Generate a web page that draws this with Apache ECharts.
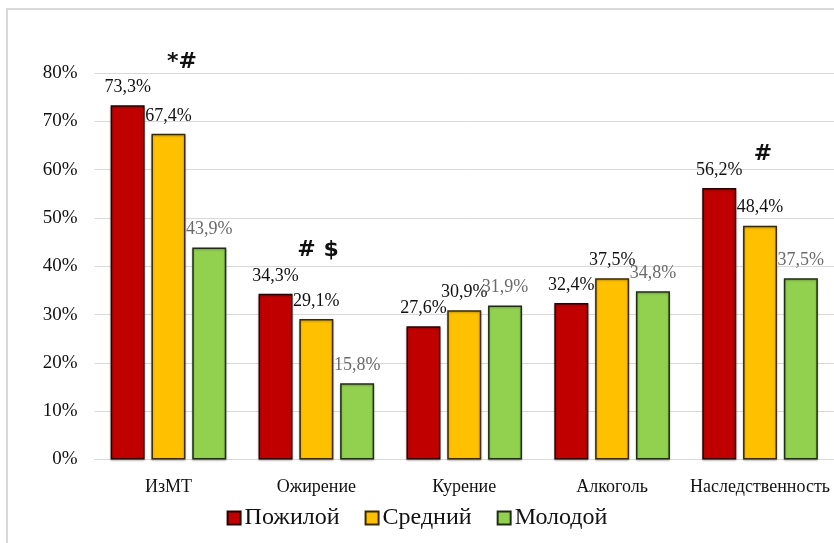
<!DOCTYPE html>
<html>
<head>
<meta charset="utf-8">
<script src="https://cdn.jsdelivr.net/npm/echarts@6/dist/echarts.min.js"></script>
<style>
  html, body { margin: 0; padding: 0; background: #ffffff; }
  #chart { width: 834px; height: 543px; }
</style>
</head>
<body>
<div id="chart"></div>
<script>
// Risk factors by age group, share of patients (%)
const categories = ['ИзМТ', 'Ожирение', 'Курение', 'Алкоголь', 'Наследственность'];
const seriesNames = ['Пожилой', 'Средний', 'Молодой'];
const elderly = [73.3, 34.3, 27.6, 32.4, 56.2];
const middle = [67.4, 29.1, 30.9, 37.5, 48.4];
const young = [43.9, 15.8, 31.9, 34.8, 37.5];
const yTicks = [0, 10, 20, 30, 40, 50, 60, 70, 80];

// Significance marks shown above groups
const marks = [
  { text: '*#', x: 182, y: 62 },
  { text: '# $', x: 318, y: 250 },
  { text: '#', x: 763, y: 154 }
];

const serif = '"Liberation Serif", "Times New Roman", serif';
const fmt = v => String(v).replace('.', ',') + '%';

const fills = ['#C00000', '#FFC000', '#92D050'];
const borders = ['#2a0000', '#3a2a00', '#1f2e10'];
const labelColors = ['#111111', '#111111', '#6b6b6b'];
const values = [elderly, middle, young];

const chart = echarts.init(document.getElementById('chart'), null, { renderer: 'canvas' });

chart.setOption({
  animation: false,
  backgroundColor: '#ffffff',
  grid: { left: 94.5, right: 0, top: 73, bottom: 83.5, containLabel: false },
  xAxis: {
    type: 'category',
    data: categories,
    axisLine: { show: true, lineStyle: { color: '#d9d9d9', width: 1 } },
    axisTick: { show: false },
    axisLabel: { color: '#111', fontFamily: serif, fontSize: 18, margin: 19, interval: 0 }
  },
  yAxis: {
    type: 'value',
    min: yTicks[0],
    max: yTicks[yTicks.length - 1],
    interval: 10,
    axisLine: { show: false },
    axisTick: { show: false },
    splitLine: { lineStyle: { color: '#d9d9d9', width: 1 } },
    axisLabel: { color: '#111', fontFamily: serif, fontSize: 19, margin: 17, formatter: v => v + '%' }
  },
  legend: {
    bottom: 8,
    left: 'center',
    itemWidth: 13,
    itemHeight: 13,
    itemGap: 25,
    icon: 'rect',
    textStyle: { fontFamily: serif, fontSize: 24, color: '#111', padding: [0, 0, 0, -1] },
    data: seriesNames
  },
  series: seriesNames.map((name, i) => ({
    name,
    type: 'bar',
    data: values[i],
    barWidth: 34,
    barGap: '20%',
    itemStyle: {
      color: fills[i],
      borderColor: borders[i],
      borderWidth: 1.5,
      shadowColor: 'rgba(0,0,0,0.25)',
      shadowBlur: 2,
      shadowOffsetY: 1
    },
    label: {
      show: true,
      position: 'top',
      distance: 9,
      fontFamily: serif,
      fontSize: 18,
      color: labelColors[i],
      formatter: p => fmt(p.value)
    }
  })),
  graphic: [
    {
      type: 'rect',
      shape: { x: 7, y: 9, width: 840, height: 545 },
      style: { fill: 'none', stroke: '#d9d9d9', lineWidth: 2 },
      silent: true
    },
    ...marks.map(m => ({
      type: 'text',
      x: m.x,
      y: m.y,
      style: {
        text: m.text,
        font: 'bold 22px "DejaVu Sans", "Liberation Sans", sans-serif',
        fill: '#111',
        align: 'center',
        verticalAlign: 'middle'
      }
    }))
  ]
});
</script>
</body>
</html>
